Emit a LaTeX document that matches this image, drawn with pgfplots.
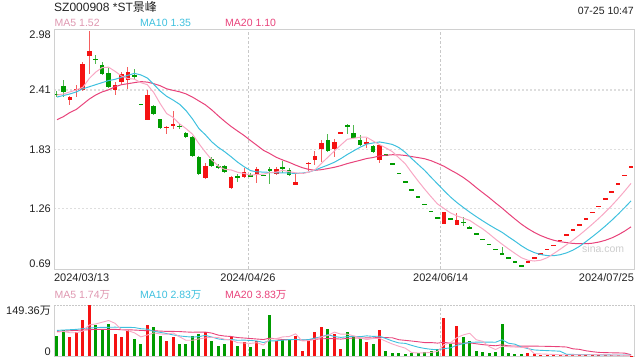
\documentclass[border=0pt]{standalone}
\usepackage{pgfplots}
\pgfplotsset{compat=1.18}
\usepackage{pgfplotstable}
\usepackage{fontspec}
\setmainfont{Liberation Sans}
\newfontfamily\cjk{Noto Sans CJK SC}
\definecolor{upred}{RGB}{245,18,18}
\definecolor{dngreen}{RGB}{0,155,0}
\definecolor{wickred}{RGB}{245,95,95}
\definecolor{wickgreen}{RGB}{80,185,80}
\definecolor{ma5c}{RGB}{248,168,196}
\definecolor{ma10c}{RGB}{62,192,222}
\definecolor{ma20c}{RGB}{232,66,122}
\definecolor{framec}{RGB}{208,208,208}
\definecolor{gridc}{RGB}{222,222,222}
\definecolor{vgridc}{RGB}{200,200,200}
\definecolor{textc}{RGB}{34,34,34}
\definecolor{wmc}{RGB}{205,205,205}
\newcommand{\tickfont}{\fontsize{11bp}{13bp}\selectfont}
\newcommand{\mafont}{\fontsize{10.5bp}{12bp}\selectfont}

\pgfplotstableread{
i o h l c
2 2.31 2.35 2.26 2.34
3 2.41 2.46 2.34 2.42
4 2.41 2.68 2.40 2.66
5 2.74 2.98 2.56 2.79
9 2.41 2.49 2.36 2.46
10 2.49 2.58 2.46 2.56
11 2.51 2.63 2.42 2.58
14 2.12 2.41 2.12 2.36
17 2.04 2.06 1.98 2.05
18 2.06 2.20 2.03 2.08
23 1.55 1.70 1.54 1.67
27 1.46 1.57 1.45 1.56
29 1.56 1.65 1.55 1.61
31 1.58 1.66 1.51 1.64
34 1.59 1.66 1.58 1.64
37 1.49 1.60 1.49 1.52
38 1.60 1.60 1.60 1.60
39 1.69 1.71 1.62 1.70
40 1.73 1.82 1.68 1.77
41 1.84 1.92 1.71 1.89
43 1.84 1.93 1.76 1.90
44 1.99 1.99 1.99 1.99
48 1.89 1.94 1.85 1.90
50 1.73 1.88 1.70 1.87
60 1.11 1.22 1.11 1.22
62 1.10 1.21 1.10 1.15
73 0.74 0.74 0.74 0.74
74 0.78 0.78 0.78 0.78
75 0.82 0.82 0.82 0.82
76 0.86 0.86 0.86 0.86
77 0.90 0.90 0.90 0.90
78 0.95 0.95 0.95 0.95
79 1.00 1.00 1.00 1.00
80 1.05 1.05 1.05 1.05
81 1.10 1.10 1.10 1.10
82 1.16 1.16 1.16 1.16
83 1.22 1.22 1.22 1.22
84 1.28 1.28 1.28 1.28
85 1.35 1.35 1.35 1.35
86 1.42 1.42 1.42 1.42
87 1.50 1.50 1.50 1.50
88 1.58 1.58 1.58 1.58
89 1.66 1.66 1.66 1.66
}\redc

\pgfplotstableread{
i o h l c
0 2.37 2.40 2.34 2.36
1 2.45 2.51 2.34 2.39
6 2.71 2.75 2.665 2.70
7 2.65 2.68 2.55 2.56
8 2.57 2.62 2.43 2.44
12 2.55 2.61 2.52 2.53
13 2.27 2.27 2.27 2.27
15 2.25 2.26 2.17 2.18
16 2.13 2.13 2.03 2.04
19 2.06 2.08 2.03 2.05
20 1.99 2.00 1.94 1.95
21 1.95 1.96 1.76 1.77
22 1.76 1.77 1.58 1.59
24 1.74 1.76 1.66 1.67
25 1.67 1.69 1.64 1.65
26 1.67 1.68 1.60 1.61
28 1.57 1.59 1.52 1.56
30 1.58 1.60 1.56 1.57
32 1.58 1.58 1.58 1.58
33 1.64 1.66 1.50 1.63
35 1.66 1.72 1.60 1.65
36 1.63 1.65 1.57 1.58
42 1.92 1.98 1.81 1.82
45 2.07 2.08 1.98 2.05
46 1.99 2.07 1.94 1.94
47 1.92 1.97 1.86 1.87
49 1.86 1.87 1.80 1.81
51 1.78 1.78 1.78 1.78
52 1.69 1.69 1.69 1.69
53 1.60 1.60 1.60 1.60
54 1.52 1.52 1.52 1.52
55 1.44 1.44 1.44 1.44
56 1.37 1.37 1.37 1.37
57 1.30 1.30 1.30 1.30
58 1.23 1.23 1.23 1.23
59 1.17 1.17 1.17 1.17
61 1.16 1.16 1.16 1.16
63 1.13 1.18 1.09 1.12
64 1.08 1.09 1.06 1.06
65 1.01 1.01 1.01 1.01
66 0.96 0.96 0.96 0.96
67 0.91 0.91 0.91 0.91
68 0.86 0.86 0.86 0.86
69 0.82 0.88 0.82 0.82
70 0.78 0.78 0.78 0.78
71 0.74 0.74 0.74 0.74
72 0.70 0.70 0.70 0.70
}\greenc

\pgfplotstableread{
i ma5 ma10 ma20
0 2.36 2.34 2.12
1 2.37 2.355 2.15
2 2.39 2.37 2.19
3 2.41 2.39 2.22
4 2.434 2.42 2.27
5 2.52 2.44 2.32
6 2.582 2.46 2.36
7 2.626 2.48 2.39
8 2.63 2.50 2.41
9 2.59 2.512 2.44
10 2.544 2.532 2.46
11 2.52 2.551 2.47
12 2.514 2.57 2.48
13 2.48 2.555 2.49
14 2.46 2.525 2.485
15 2.384 2.464 2.47
16 2.276 2.398 2.45
17 2.18 2.347 2.42
18 2.142 2.311 2.405
19 2.08 2.27 2.391
20 2.034 2.209 2.371
21 1.98 2.128 2.34
22 1.888 2.034 2.302
23 1.806 1.974 2.265
24 1.73 1.905 2.215
25 1.67 1.852 2.158
26 1.638 1.809 2.104
27 1.632 1.76 2.054
28 1.61 1.708 2.01
29 1.598 1.664 1.967
30 1.582 1.626 1.918
31 1.588 1.613 1.871
32 1.592 1.612 1.823
33 1.606 1.608 1.791
34 1.612 1.605 1.755
35 1.628 1.605 1.729
36 1.616 1.602 1.706
37 1.604 1.598 1.679
38 1.598 1.602 1.655
39 1.61 1.611 1.638
40 1.634 1.631 1.629
41 1.696 1.656 1.635
42 1.756 1.68 1.646
43 1.816 1.707 1.658
44 1.874 1.742 1.674
45 1.93 1.782 1.694
46 1.94 1.818 1.71
47 1.95 1.853 1.726
48 1.95 1.883 1.743
49 1.914 1.894 1.753
50 1.878 1.904 1.768
51 1.846 1.893 1.775
52 1.81 1.88 1.78
53 1.75 1.85 1.779
54 1.692 1.803 1.773
55 1.606 1.742 1.762
56 1.524 1.685 1.752
57 1.446 1.628 1.741
58 1.372 1.561 1.722
59 1.302 1.497 1.696
60 1.258 1.432 1.668
61 1.216 1.37 1.632
62 1.186 1.316 1.598
63 1.164 1.268 1.559
64 1.142 1.222 1.513
65 1.10 1.179 1.461
66 1.06 1.138 1.412
67 1.012 1.099 1.364
68 0.96 1.062 1.312
69 0.912 1.027 1.262
70 0.866 0.983 1.208
71 0.822 0.941 1.156
72 0.78 0.896 1.106
73 0.756 0.858 1.063
74 0.748 0.83 1.026
75 0.756 0.811 0.995
76 0.78 0.801 0.97
77 0.82 0.80 0.95
78 0.862 0.809 0.936
79 0.906 0.827 0.927
80 0.952 0.854 0.919
81 1.00 0.89 0.916
82 1.052 0.936 0.916
83 1.106 0.984 0.921
84 1.162 1.034 0.932
85 1.222 1.087 0.949
86 1.286 1.143 0.972
87 1.354 1.203 1.002
88 1.426 1.266 1.038
89 1.502 1.332 1.08
}\matab

\pgfplotstableread{
i v
2 55
3 70
4 105
5 149.36
9 65
10 55
11 75
14 92
17 45
18 55
23 70
27 55
29 40
31 45
34 45
37 60
38 15
39 50
40 70
41 85
43 65
44 20
48 40
50 75
60 111
62 88
73 8
74 5
75 4
76 3.5
77 2.8
78 2.2
79 1.8
80 5.5
81 4.5
82 3.8
83 3.2
84 2.6
85 2.2
86 1.9
87 1.7
88 1.5
89 1.4
}\redv

\pgfplotstableread{
i v
0 60
1 75
6 90
7 80
8 95
12 50
13 35
15 86
16 60
19 35
20 35
21 60
22 65
24 45
25 30
26 35
28 30
30 25
32 20
33 120
35 50
36 50
42 80
45 70
46 60
47 50
49 35
51 15
52 10
53 8
54 7
55 10
56 9
57 12
58 15
59 20
61 35
63 55
64 45
65 15
66 12
67 10
68 12
69 94
70 8
71 7
72 6
}\greenv

\pgfplotstableread{
i v5 v10 v20
0 70 75 72
1 72 76 73
2 68 77 74
3 68 78 75
4 73 80 76
5 90.9 82 77
6 93.9 83 78
7 98.9 84 78
8 103.9 84 78
9 95.9 84.4 78
10 77 83.9 77
11 74 83.9 77
12 68 83.4 76
13 56 79.9 75
14 61.4 78.6 74
15 67.6 72.3 74
16 64.6 69.3 73
17 63.6 65.8 72
18 67.6 61.8 72
19 56.2 58.8 71.6
20 46 56.8 70.4
21 46 55.3 69.6
22 50 56.8 70.1
23 53 60.3 70.1
24 55 55.6 67.1
25 54 50 61.2
26 49 47.5 58.4
27 47 48.5 57.2
28 39 46 53.9
29 38 46.5 52.7
30 37 45.5 51.2
31 39 44 49.7
32 32 39.5 48.2
33 50 44.5 52.4
34 51 44.5 50.1
35 56 46.5 48.3
36 57 48 47.8
37 65 48.5 48.5
38 44 47 46.5
39 45 48 47.3
40 49 52.5 49
41 56 56.5 50.3
42 60 62.5 51
43 70 57 50.8
44 64 54.5 49.5
45 64 56.5 51.5
46 59 57.5 52.8
47 53 56.5 52.5
48 48 59 53
49 51 57.5 52.8
50 52 58 55.3
51 43 51 53.8
52 35 44 53.3
53 28.6 38.3 47.7
54 23 37 45.8
55 10 31 43.8
56 8.8 25.9 41.7
57 9.2 22.1 39.3
58 10.6 19.6 39.3
59 13.2 18.1 37.8
60 33.4 21.7 39.9
61 38.6 23.7 37.4
62 53.8 31.5 37.8
63 61.8 36.2 37.3
64 66.8 40 38.5
65 47.6 40.5 35.8
66 43 40.8 33.4
67 27.4 40.6 31.4
68 18.8 40.3 30
69 28.6 47.7 32.9
70 27.2 37.4 29.6
71 26.2 34.6 29.2
72 25.4 26.4 29
73 24.6 21.7 29
74 6.8 17.7 28.9
75 6 16.6 28.6
76 5.3 15.75 28.3
77 4.66 15.0 27.8
78 3.5 14.05 27.2
79 2.86 4.83 26.3
80 3.16 4.58 21
81 3.36 4.33 19.5
82 3.56 4.11 15.3
83 3.76 3.63 12.7
84 3.92 3.39 10.5
85 3.26 3.21 9.9
86 2.74 3.05 9.4
87 2.32 2.94 9.0
88 1.98 2.87 8.5
89 1.74 2.83 3.83
}\vmatab

\begin{document}
\begin{tikzpicture}
\useasboundingbox (0,0) rectangle (640bp,360bp);

% ---------- price panel ----------
\begin{axis}[
  at={(54bp,91bp)}, anchor=south west,
  scale only axis, width=580bp, height=240bp,
  xmin=-0.465, xmax=89.46, ymin=0.6706, ymax=3.0007,
  axis line style={draw=framec, line width=0.8bp},
  tick style={draw=none},
  xtick={29.6,59.5}, xticklabels={2024/04/26,2024/06/14},
  extra x ticks={-0.45,89.45},
  extra x tick labels={\rlap{2024/03/13},\llap{2024/07/25}},
  extra x tick style={grid=none},
  xmajorgrids,
  x grid style={draw=vgridc, line width=0.7bp, dash pattern=on 2.5bp off 2bp},
  ytick={1.26,1.83,2.41}, yticklabels={1.26,1.83,2.41},
  extra y ticks={0.69,2.98},
  extra y tick labels={\raisebox{4bp}{0.69},\raisebox{-3.5bp}{2.98}},
  extra y tick style={grid=none},
  ymajorgrids,
  y grid style={draw=gridc, line width=1.4bp, dash pattern=on 2bp off 2bp},
  xticklabel style={anchor=base, yshift=-12.5bp, inner sep=0pt, font=\tickfont, text=textc},
  yticklabel style={anchor=base east, xshift=-3bp, yshift=-4bp, inner sep=0pt, font=\tickfont, text=textc},
]
% wicks
\addplot[draw=none, mark=none, error bars/.cd, y dir=both, y explicit, error mark=none,
  error bar style={draw=wickred, solid, line width=1bp}]
  table[x=i, y expr={(\thisrow{h}+\thisrow{l})/2}, y error expr={(\thisrow{h}-\thisrow{l})/2}] {\redc};
\addplot[draw=none, mark=none, error bars/.cd, y dir=both, y explicit, error mark=none,
  error bar style={draw=wickgreen, solid, line width=1bp}]
  table[x=i, y expr={(\thisrow{h}+\thisrow{l})/2}, y error expr={(\thisrow{h}-\thisrow{l})/2}] {\greenc};
% bodies
\addplot[draw=none, mark=none, error bars/.cd, y dir=both, y explicit, error mark=none,
  error bar style={draw=upred, solid, line width=4.6bp}]
  table[x=i, y expr={(\thisrow{o}+\thisrow{c})/2}, y error expr={max(abs(\thisrow{c}-\thisrow{o})/2,0.0065)}] {\redc};
\addplot[draw=none, mark=none, error bars/.cd, y dir=both, y explicit, error mark=none,
  error bar style={draw=dngreen, solid, line width=4.6bp}]
  table[x=i, y expr={(\thisrow{o}+\thisrow{c})/2}, y error expr={max(abs(\thisrow{c}-\thisrow{o})/2,0.0065)}] {\greenc};
% moving averages
\addplot[ma20c, line width=1bp, mark=none, line join=round] table[x=i, y=ma20] {\matab};
\addplot[ma10c, line width=1bp, mark=none, line join=round] table[x=i, y=ma10] {\matab};
\addplot[ma5c, line width=1bp, mark=none, line join=round] table[x=i, y=ma5] {\matab};
\end{axis}

% ---------- volume panel ----------
\begin{axis}[
  at={(54bp,4bp)}, anchor=south west,
  scale only axis, width=580bp, height=51bp,
  xmin=-0.465, xmax=89.46, ymin=0, ymax=149.36,
  axis line style={draw=none},
  tick style={draw=none},
  xtick={29.6,59.5}, xticklabels={},
  xmajorgrids,
  x grid style={draw=vgridc, line width=0.7bp, dash pattern=on 2.5bp off 2bp},
  ytick={0,149.36}, yticklabels={\raisebox{5bp}{0},\raisebox{-5bp}{149.36{\cjk 万}}},
  yticklabel style={anchor=base east, xshift=-3bp, yshift=-4bp, inner sep=0pt, font=\tickfont, text=textc},
  clip=false,
]
\draw[framec, line width=0.8bp] (rel axis cs:0,1) -- (rel axis cs:0,0) -- (rel axis cs:1,0) -- (rel axis cs:1,1);
\draw[vgridc, line width=0.8bp, dash pattern=on 1.5bp off 1.5bp] (rel axis cs:0,1) -- (rel axis cs:1,1);
\addplot[ycomb, draw=upred, line width=3bp, mark=none] table[x=i, y=v] {\redv};
\addplot[ycomb, draw=dngreen, line width=3bp, mark=none] table[x=i, y=v] {\greenv};
\addplot[ma20c, line width=0.9bp, mark=none, line join=round] table[x=i, y=v20] {\vmatab};
\addplot[ma10c, line width=0.9bp, mark=none, line join=round] table[x=i, y=v10] {\vmatab};
\addplot[ma5c, line width=0.9bp, mark=none, line join=round] table[x=i, y=v5] {\vmatab};
\end{axis}

% ---------- texts ----------
\node[anchor=base west, inner sep=0pt, font=\fontsize{12bp}{14bp}\selectfont, text=textc] at (54bp,348.5bp) {SZ000908 *ST{\cjk 景峰}};
\node[anchor=base east, inner sep=0pt, font=\mafont, text=textc] at (634bp,345bp) {07-25 10:47};
\node[anchor=base west, inner sep=0pt, font=\mafont, text=ma5c!90!black] at (54.5bp,333bp) {MA5 1.52};
\node[anchor=base west, inner sep=0pt, font=\mafont, text=ma10c] at (140bp,333bp) {MA10 1.35};
\node[anchor=base west, inner sep=0pt, font=\mafont, text=ma20c] at (225bp,333bp) {MA20 1.10};
\node[anchor=base west, inner sep=0pt, font=\mafont, text=ma5c!90!black] at (54.5bp,61.7bp) {MA5 1.74{\cjk 万}};
\node[anchor=base west, inner sep=0pt, font=\mafont, text=ma10c] at (140bp,61.7bp) {MA10 2.83{\cjk 万}};
\node[anchor=base west, inner sep=0pt, font=\mafont, text=ma20c] at (225bp,61.7bp) {MA20 3.83{\cjk 万}};
\node[anchor=base west, inner sep=0pt, font=\mafont, text=wmc] at (582bp,107bp) {sina.com};
\end{tikzpicture}
\end{document}
